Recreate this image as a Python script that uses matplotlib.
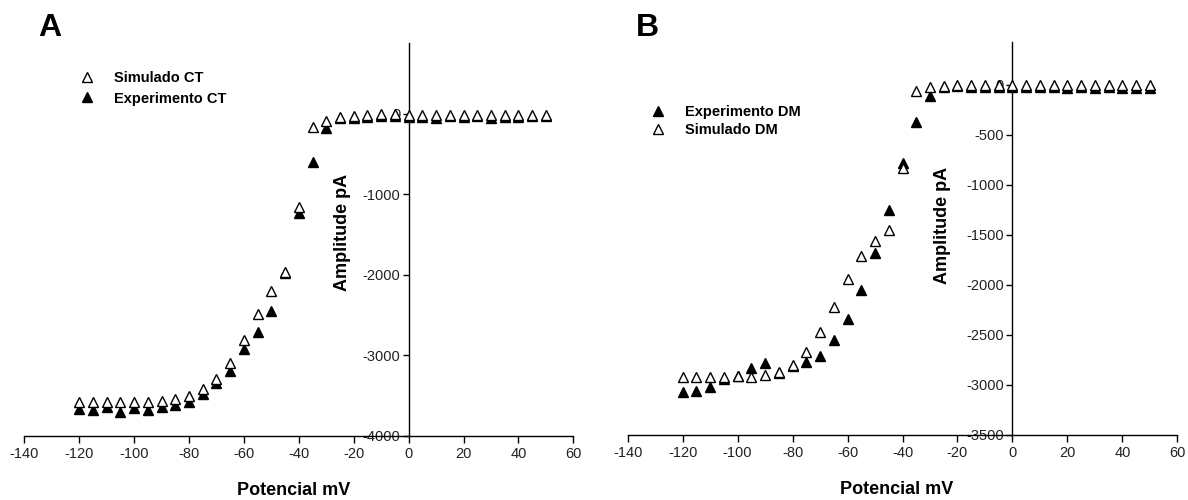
import matplotlib
matplotlib.use("Agg")
import matplotlib.pyplot as plt

plt.rcParams['font.family'] = ['Liberation Sans', 'DejaVu Sans']
plt.rcParams['axes.unicode_minus'] = False

# ---------------- data ----------------
voltage = [-120, -115, -110, -105, -100, -95, -90, -85, -80, -75, -70, -65, -60,
           -55, -50, -45, -40, -35, -30, -25, -20, -15, -10, -5, 0, 5, 10, 15,
           20, 25, 30, 35, 40, 45, 50]

sim_ct = [-3578, -3578, -3578, -3578, -3578, -3578, -3565, -3544, -3503, -3424,
          -3296, -3093, -2811, -2492, -2199, -1970, -1155, -169, -87, -37, -29,
          -12, -5, -5, -15, -20, -20, -15, -20, -15, -20, -15, -15, -15, -15]
exp_ct = [-3672, -3681, -3647, -3709, -3660, -3681, -3640, -3619, -3585, -3486,
          -3349, -3193, -2927, -2708, -2447, -1985, -1237, -596, -181, -60, -50,
          -40, -30, -30, -40, -45, -50, -35, -45, -35, -55, -40, -40, -35, -35]

sim_dm = [-2923, -2923, -2917, -2923, -2909, -2917, -2896, -2872, -2796, -2672,
          -2475, -2221, -1944, -1710, -1563, -1453, -835, -67, -27, -10, -5,
          -5, -5, -5, -5, -5, -5, -5, -5, -5, -5, -5, -5, -5, -5]
exp_dm = [-3066, -3056, -3016, -2940, -2915, -2829, -2782, -2880, -2815, -2772,
          -2715, -2548, -2345, -2054, -1680, -1253, -785, -368, -110, -20, -15,
          -20, -20, -25, -25, -20, -25, -20, -30, -25, -30, -25, -30, -35, -35]

xticks = [-140, -120, -100, -80, -60, -40, -20, 0, 20, 40, 60]
yticks_a = [-4000, -3000, -2000, -1000, 0]
yticks_b = [-3500, -3000, -2500, -2000, -1500, -1000, -500, 0]

W, H = 1188, 500
fig = plt.figure(figsize=(W / 100, H / 100), dpi=100)


def px(x0, y0, x1, y1):
    return [x0 / W, 1 - y1 / H, (x1 - x0) / W, (y1 - y0) / H]


def style(ax, ylim, yticks, ylab_xy):
    ax.set_xlim(-140, 60)
    ax.set_ylim(*ylim)
    ax.set_xticks(xticks)
    ax.set_yticks(yticks)
    ax.spines['top'].set_visible(False)
    ax.spines['right'].set_visible(False)
    ax.spines['left'].set_position(('data', 0))
    for s in ('left', 'bottom'):
        ax.spines[s].set_linewidth(1.0)
        ax.spines[s].set_color('black')
    ax.tick_params(axis='x', direction='out', length=5, width=1, pad=3,
                   labelsize=10.5, labelcolor='#222222')
    ax.tick_params(axis='y', direction='out', length=4, width=1, pad=2,
                   labelsize=10.5, labelcolor='#222222')
    ax.set_xlabel('Potencial mV', fontsize=13, fontweight='bold')
    ax.xaxis.set_label_coords(0.49, -0.117)
    ax.set_ylabel('Amplitude pA', fontsize=13, fontweight='bold')
    ax.yaxis.set_label_coords(*ylab_xy)
    ax.patch.set_alpha(0)


mk = dict(marker='^', linestyle='none', markersize=7.5)

# ---------------- Panel A ----------------
axA = fig.add_axes(px(24.3, 42.7, 573.3, 435.7))
hA_exp, = axA.plot(voltage, exp_ct, color='black', markerfacecolor='black',
                   markeredgecolor='black', label='Experimento CT', zorder=3, **mk)
hA_sim, = axA.plot(voltage, sim_ct, color='black', markerfacecolor='white',
                   markeredgecolor='black', markeredgewidth=1.0,
                   label='Simulado CT', zorder=4, **mk)
style(axA, (-4000, 880), yticks_a, (0.595, 0.518))
legA = axA.legend([hA_sim, hA_exp], ['Simulado CT', 'Experimento CT'],
                  loc='upper left', bbox_to_anchor=(80 / W, 1 - 71 / H),
                  bbox_transform=fig.transFigure, frameon=False, numpoints=1,
                  handlelength=1.0, handletextpad=1.3, labelspacing=0.45,
                  borderpad=0, borderaxespad=0,
                  prop={'weight': 'bold', 'size': 10.5})
for h in legA.legend_handles:
    h.set_markersize(7)

# ---------------- Panel B ----------------
axB = fig.add_axes(px(627.7, 41.7, 1177.3, 435.0))
hB_exp, = axB.plot(voltage, exp_dm, color='black', markerfacecolor='black',
                   markeredgecolor='black', label='Experimento DM', zorder=3, **mk)
hB_sim, = axB.plot(voltage, sim_dm, color='black', markerfacecolor='white',
                   markeredgecolor='black', markeredgewidth=1.0,
                   label='Simulado DM', zorder=4, **mk)
style(axB, (-3500, 430), yticks_b, (0.588, 0.534))
legB = axB.legend([hB_exp, hB_sim], ['Experimento DM', 'Simulado DM'],
                  loc='upper left', bbox_to_anchor=(651 / W, 1 - 105 / H),
                  bbox_transform=fig.transFigure, frameon=False, numpoints=1,
                  handlelength=1.0, handletextpad=1.3, labelspacing=0.3,
                  borderpad=0, borderaxespad=0,
                  prop={'weight': 'bold', 'size': 10.5})
for h in legB.legend_handles:
    h.set_markersize(7)

# panel letters
fig.text(38 / W, 1 - 28 / H, 'A', fontsize=23, fontweight='bold', va='center')
fig.text(636 / W, 1 - 28 / H, 'B', fontsize=23, fontweight='bold', va='center')

fig.savefig('out.png', dpi=100)
